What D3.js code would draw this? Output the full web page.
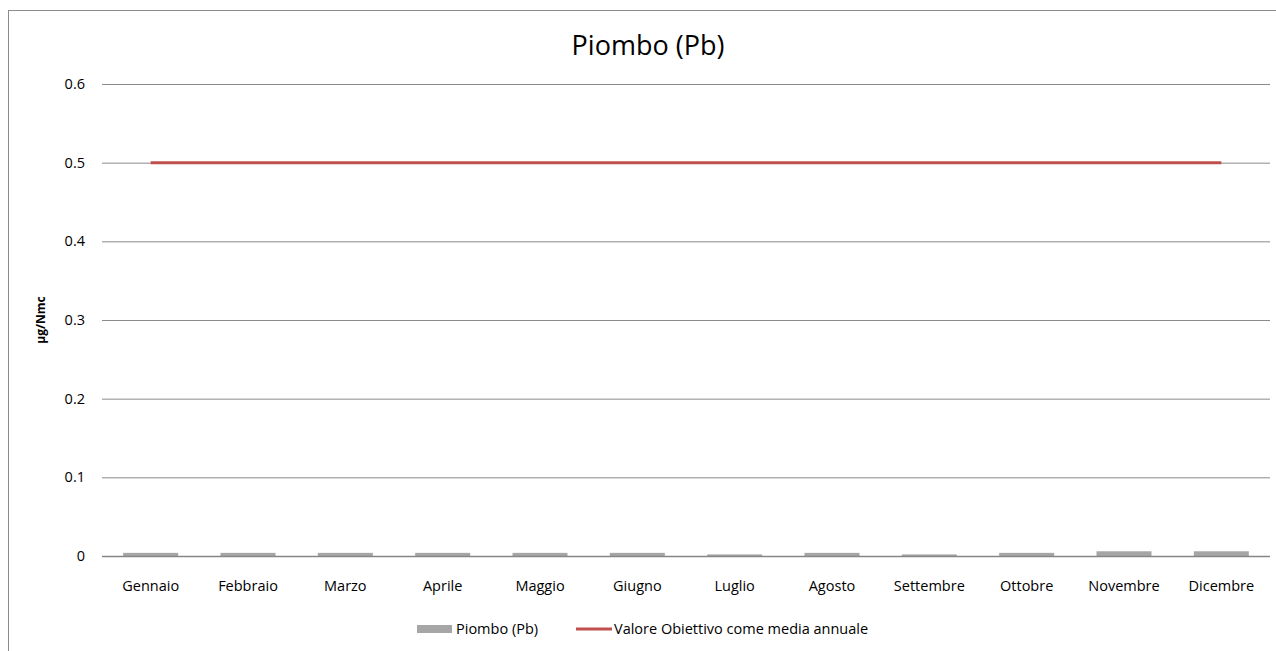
<!DOCTYPE html>
<html><head><meta charset="utf-8">
<script src="https://cdn.jsdelivr.net/npm/d3@7"></script>
<style>body{margin:0;background:#fff}text{font-family:"Open Sans","Liberation Sans",sans-serif}</style>
</head><body><svg id="c" width="1276" height="651"></svg>
<script>
const categories=["Gennaio","Febbraio","Marzo","Aprile","Maggio","Giugno","Luglio","Agosto","Settembre","Ottobre","Novembre","Dicembre"];
const pbValues=[0.004,0.004,0.004,0.004,0.004,0.004,0.002,0.004,0.002,0.004,0.006,0.006];
const targetValues=[0.5,0.5,0.5,0.5,0.5,0.5,0.5,0.5,0.5,0.5,0.5,0.5];
const yTicks=[0,0.1,0.2,0.3,0.4,0.5,0.6];
const title="Piombo (Pb)";
const yLabel="µg/Nmc";
const legendLabels=["Piombo (Pb)","Valore Obiettivo come media annuale"];

const svg=d3.select("#c");
svg.append("rect").attr("x",8.5).attr("y",10.5).attr("width",1300).attr("height",700).attr("fill","none").attr("stroke","#8c8c8c");
const L=102,R=1270,T=84,B=556;
const x=d3.scaleBand().domain(categories).range([L,R]).paddingInner(0.435).paddingOuter(0.2175);
const xc=d3.scalePoint().domain(categories).range([L,R]).padding(0.5);
const y=d3.scaleLinear().domain([0,0.6]).range([B,T]);
const FS=14.5;

const g=svg.append("g");
g.selectAll("line.grid").data(yTicks.filter(d=>d>0)).join("line").attr("class","grid")
 .attr("x1",L).attr("x2",R).attr("y1",d=>y(d)+0.5).attr("y2",d=>y(d)+0.5).attr("stroke","#8a8a8a").attr("stroke-width",1);
g.selectAll("text.yt").data(yTicks).join("text").attr("class","yt")
 .attr("x",85).attr("y",d=>y(d)).attr("dy","0.35em").attr("text-anchor","end").attr("font-size",FS).attr("fill","#000")
 .text(d=>d===0?"0":d3.format(".1f")(d));

g.selectAll("rect.bar").data(categories).join("rect").attr("class","bar")
 .attr("x",d=>x(d)).attr("width",x.bandwidth())
 .attr("y",(d,i)=>y(pbValues[i])).attr("height",(d,i)=>B-y(pbValues[i])).attr("fill","#a6a6a6");

g.append("line").attr("x1",L).attr("x2",R).attr("y1",B+0.5).attr("y2",B+0.5).attr("stroke","#868686").attr("stroke-width",1.5);

const line=d3.line().x((d,i)=>xc(categories[i])).y(d=>y(d));
g.append("path").datum(targetValues).attr("d",line).attr("fill","none").attr("stroke","#c0504d").attr("stroke-width",3);

g.selectAll("text.xt").data(categories).join("text").attr("class","xt")
 .attr("x",d=>xc(d)).attr("y",591).attr("text-anchor","middle").attr("font-size",FS).attr("fill","#000").text(d=>d);

svg.append("text").attr("x",648).attr("y",55).attr("text-anchor","middle").attr("font-size",27).attr("fill","#000").text(title);
svg.append("text").attr("transform","translate(45,320) rotate(-90)").attr("text-anchor","middle").attr("font-size",12).attr("font-weight","bold").attr("fill","#000").text(yLabel);

svg.append("rect").attr("x",417).attr("y",625).attr("width",35).attr("height",8).attr("fill","#a6a6a6");
svg.append("text").attr("x",456).attr("y",629).attr("dy","0.35em").attr("font-size",FS).text(legendLabels[0]);
svg.append("line").attr("x1",576).attr("x2",612).attr("y1",629).attr("y2",629).attr("stroke","#c0504d").attr("stroke-width",3);
svg.append("text").attr("x",614).attr("y",629).attr("dy","0.35em").attr("font-size",FS).text(legendLabels[1]);
</script></body></html>
